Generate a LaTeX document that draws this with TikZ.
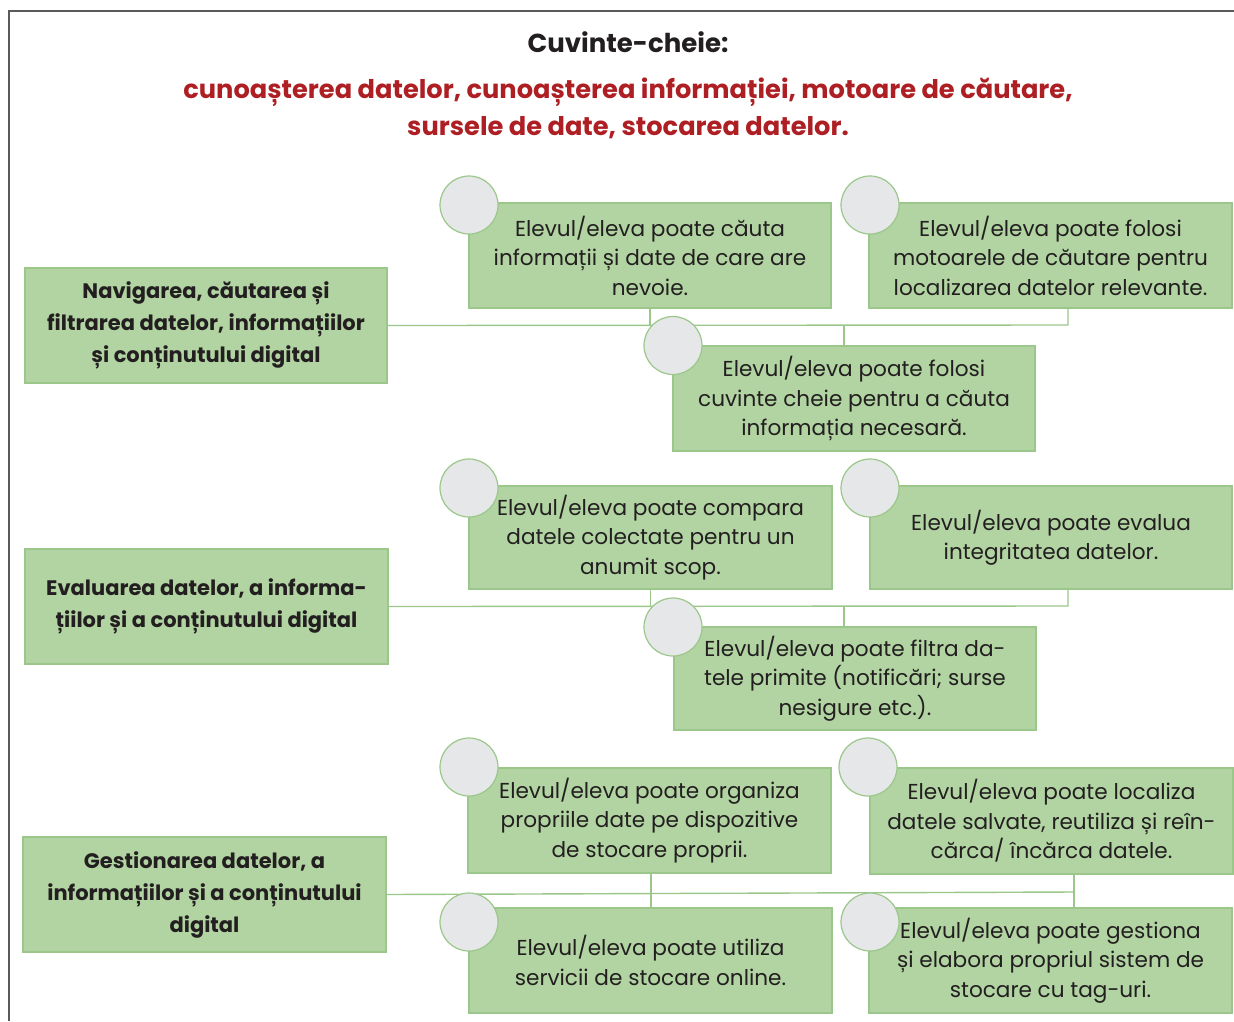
\documentclass[tikz,border=0pt]{standalone}
\usepackage{fontspec}
\setmainfont{Poppins}
\definecolor{boxfill}{HTML}{B1D4A2}
\definecolor{boxline}{HTML}{9CC78B}
\definecolor{circfill}{HTML}{E6E7E9}
\definecolor{txt}{HTML}{231F20}
\definecolor{redt}{HTML}{AE1F24}
\definecolor{frame}{HTML}{5A5A5A}
\tikzset{
  box/.style={draw=boxline, fill=boxfill, line width=1.2pt, align=center, text=txt,
    inner sep=0pt, font=\fontsize{21.6}{29.5}\selectfont},
  lbox/.style={box, font=\bfseries\fontsize{21}{32}\selectfont},
  circ/.style={circle, draw=boxline, fill=circfill, line width=1.2pt, minimum size=58pt, inner sep=0pt},
  conn/.style={draw=boxline, line width=1.4pt},
}
\begin{document}
\begin{tikzpicture}[x=1pt,y=-1pt]
\useasboundingbox (0,0) rectangle (1234,1021);
\fill[white] (0,0) rectangle (1234,1021);
\draw[frame, line width=1.6pt] (9,1021) -- (9,11) -- (1234,11);

\node[font=\bfseries\fontsize{26}{30}\selectfont, text=txt] (title) at (628,42) {Cuvinte-cheie:};
\node[font=\bfseries\fontsize{25.7}{37}\selectfont, text=redt, align=center] (keys) at (628,108)
  {cunoașterea datelor, cunoașterea informației, motoare de căutare,\\ sursele de date, stocarea datelor.};

% left nodes
\node[lbox, minimum width=362pt, minimum height=115pt] (L1) at (206,325.5)
  {Navigarea, căutarea și\\ filtrarea datelor, informațiilor\\ și conținutului digital};
\node[lbox, minimum width=363pt, minimum height=115pt] (L2) at (206.5,606.5)
  {Evaluarea datelor, a informa-\\ țiilor și a conținutului digital};
\node[lbox, minimum width=363pt, minimum height=115pt] (L3) at (204.5,894.5)
  {Gestionarea datelor, a\\ informațiilor și a conținutului\\ digital};

% row 1
\node[box, minimum width=362pt, minimum height=105pt] (B1) at (650,255.5)
  {Elevul/eleva poate căuta\\ informații și date de care are\\ nevoie.};
\node[box, minimum width=363pt, minimum height=105pt] (B2) at (1050.5,255.5)
  {Elevul/eleva poate folosi\\ motoarele de căutare pentru\\ localizarea datelor relevante.};
\node[box, minimum width=362pt, minimum height=105pt] (B3) at (854,398.5)
  {Elevul/eleva poate folosi\\ cuvinte cheie pentru a căuta\\ informația necesară.};
% row 2
\node[box, minimum width=363pt, minimum height=103pt] (B4) at (650.5,537.5)
  {Elevul/eleva poate compara\\ datele colectate pentru un\\ anumit scop.};
\node[box, minimum width=362pt, minimum height=103pt] (B5) at (1051,537.5)
  {Elevul/eleva poate evalua\\ integritatea datelor.};
\node[box, minimum width=362pt, minimum height=103pt] (B6) at (855,678.5)
  {Elevul/eleva poate filtra da-\\ tele primite (notificări; surse\\ nesigure etc.).};
% row 3
\node[box, minimum width=363pt, minimum height=105pt] (B7) at (649.5,820.5)
  {Elevul/eleva poate organiza\\ propriile date pe dispozitive\\ de stocare proprii.};
\node[box, minimum width=363pt, minimum height=106pt] (B8) at (1051.5,821)
  {Elevul/eleva poate localiza\\ datele salvate, reutiliza și reîn-\\ cărca/ încărca datele.};
\node[box, minimum width=363pt, minimum height=105pt] (B9) at (650.5,960.5)
  {Elevul/eleva poate utiliza\\ servicii de stocare online.};
\node[box, minimum width=363pt, minimum height=105pt] (B10) at (1050.5,960.5)
  {Elevul/eleva poate gestiona\\ și elabora propriul sistem de\\ stocare cu tag-uri.};

% connectors
\coordinate (h1) at (1068,325);
\coordinate (t3) at (844,325);
\draw[conn] (L1.east) -- (h1) -- (h1 |- B2.south);
\draw[conn] (B1.south) -- (B1.south |- h1);
\draw[conn] (t3) -- (t3 |- B3.north);

\coordinate (h2) at (1068,606);
\coordinate (t6) at (844,606);
\draw[conn] (L2.east) -- (h2) -- (h2 |- B5.south);
\draw[conn] (B4.south) -- (B4.south |- h2);
\draw[conn] (t6) -- (t6 |- B6.north);

\coordinate (h3) at (1074,892);
\coordinate (v7) at (651,892);
\draw[conn] (L3.east) -- (h3);
\draw[conn] (h3 |- B8.south) -- (h3 |- B10.north);
\draw[conn] (v7 |- B7.south) -- (v7 |- B9.north);

% circles
\node[circ] (c1) at (469,205) {};
\node[circ] (c2) at (870,205) {};
\node[circ] (c3) at (673,345.5) {};
\node[circ] (c4) at (469,488) {};
\node[circ] (c5) at (870,488) {};
\node[circ] (c6) at (673,627) {};
\node[circ] (c7) at (469,767) {};
\node[circ] (c8) at (868,767) {};
\node[circ] (c9) at (469,922) {};
\node[circ] (c10) at (870,922) {};
\end{tikzpicture}
\end{document}
